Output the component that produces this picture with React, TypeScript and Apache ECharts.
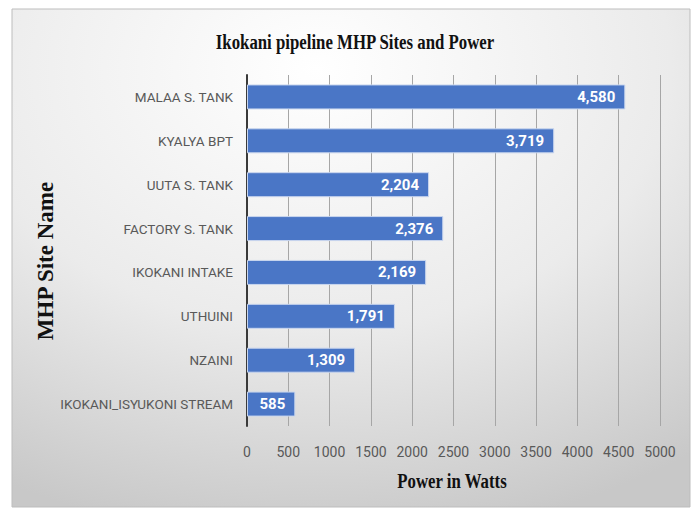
import React, { useEffect, useRef } from "react";
import * as echarts from "echarts";

const categories = [
  "MALAA S. TANK",
  "KYALYA BPT",
  "UUTA S. TANK",
  "FACTORY S. TANK",
  "IKOKANI INTAKE",
  "UTHUINI",
  "NZAINI",
  "IKOKANI_ISYUKONI STREAM",
];
const powerWatts = [4580, 3719, 2204, 2376, 2169, 1791, 1309, 585];
const titleText = "Ikokani pipeline MHP Sites and Power";
const xName = "Power in Watts";
const yName = "MHP Site Name";

const narrow = "'Liberation Sans Narrow', 'Arial Narrow', 'Roboto', sans-serif";
const serif = "'Liberation Serif', 'Times New Roman', serif";

export default function App() {
  const ref = useRef<HTMLDivElement>(null);
  useEffect(() => {
    if (!ref.current) return;
    const chart = echarts.init(ref.current, undefined, { renderer: "svg" });
    chart.setOption({
      animation: false,
      backgroundColor: "#ffffff",
      graphic: {
        elements: [
          {
            type: "rect",
            z: -100,
            silent: true,
            shape: { x: 12, y: 9, width: 678, height: 498 },
            style: {
              fill: new echarts.graphic.RadialGradient(0.45, 0.12, 0.95, [
                { offset: 0, color: "#ffffff" },
                { offset: 0.55, color: "#ebebeb" },
                { offset: 1, color: "#c8c8c8" },
              ]),
              stroke: "#bdbdbd",
              lineWidth: 1,
            },
          },
          {
            type: "text",
            x: 355,
            y: 42,
            scaleX: 0.8,
            style: {
              text: titleText,
              font: `bold 21px ${serif}`,
              fill: "#111111",
              align: "center",
              verticalAlign: "middle",
            },
          },
          {
            type: "text",
            x: 452,
            y: 481,
            scaleX: 0.8,
            style: {
              text: xName,
              font: `bold 21px ${serif}`,
              fill: "#111111",
              align: "center",
              verticalAlign: "middle",
            },
          },
          {
            type: "text",
            x: 45,
            y: 261,
            rotation: Math.PI / 2,
            style: {
              text: yName,
              font: `bold 23px ${serif}`,
              fill: "#111111",
              align: "center",
              verticalAlign: "middle",
            },
          },
        ],
      },
      grid: { left: 247, right: 37, top: 75, bottom: 87, containLabel: false },
      xAxis: {
        type: "value",
        min: 0,
        max: 5000,
        interval: 500,
        axisLine: { show: false },
        axisTick: { show: false },
        axisLabel: {
          color: "#595959",
          fontFamily: narrow,
          fontSize: 14,
          margin: 19,
          formatter: (v: number) => String(v),
        },
        splitLine: { show: true, lineStyle: { color: "#a6a6a6", width: 1 } },
      },
      yAxis: {
        type: "category",
        data: categories,
        inverse: true,
        axisLine: { show: true, lineStyle: { color: "#3a3a3a", width: 2 } },
        axisTick: { show: false },
        axisLabel: {
          color: "#595959",
          fontFamily: narrow,
          fontSize: 13.5,
          margin: 14,
        },
        splitLine: { show: false },
      },
      series: [
        {
          type: "bar",
          data: powerWatts,
          barWidth: 25,
          itemStyle: { color: "#4a76c6", borderColor: "#c9d6ee", borderWidth: 1 },
          label: {
            show: true,
            position: "insideRight",
            distance: 10,
            color: "#ffffff",
            fontFamily: narrow,
            fontWeight: "bold",
            fontSize: 15,
            formatter: (p: any) => Number(p.value).toLocaleString("en-US"),
          },
        },
      ],
    });
    return () => chart.dispose();
  }, []);
  return (
    <div
      ref={ref}
      style={{ position: "absolute", left: 0, top: 0, width: 697, height: 513 }}
    />
  );
}
